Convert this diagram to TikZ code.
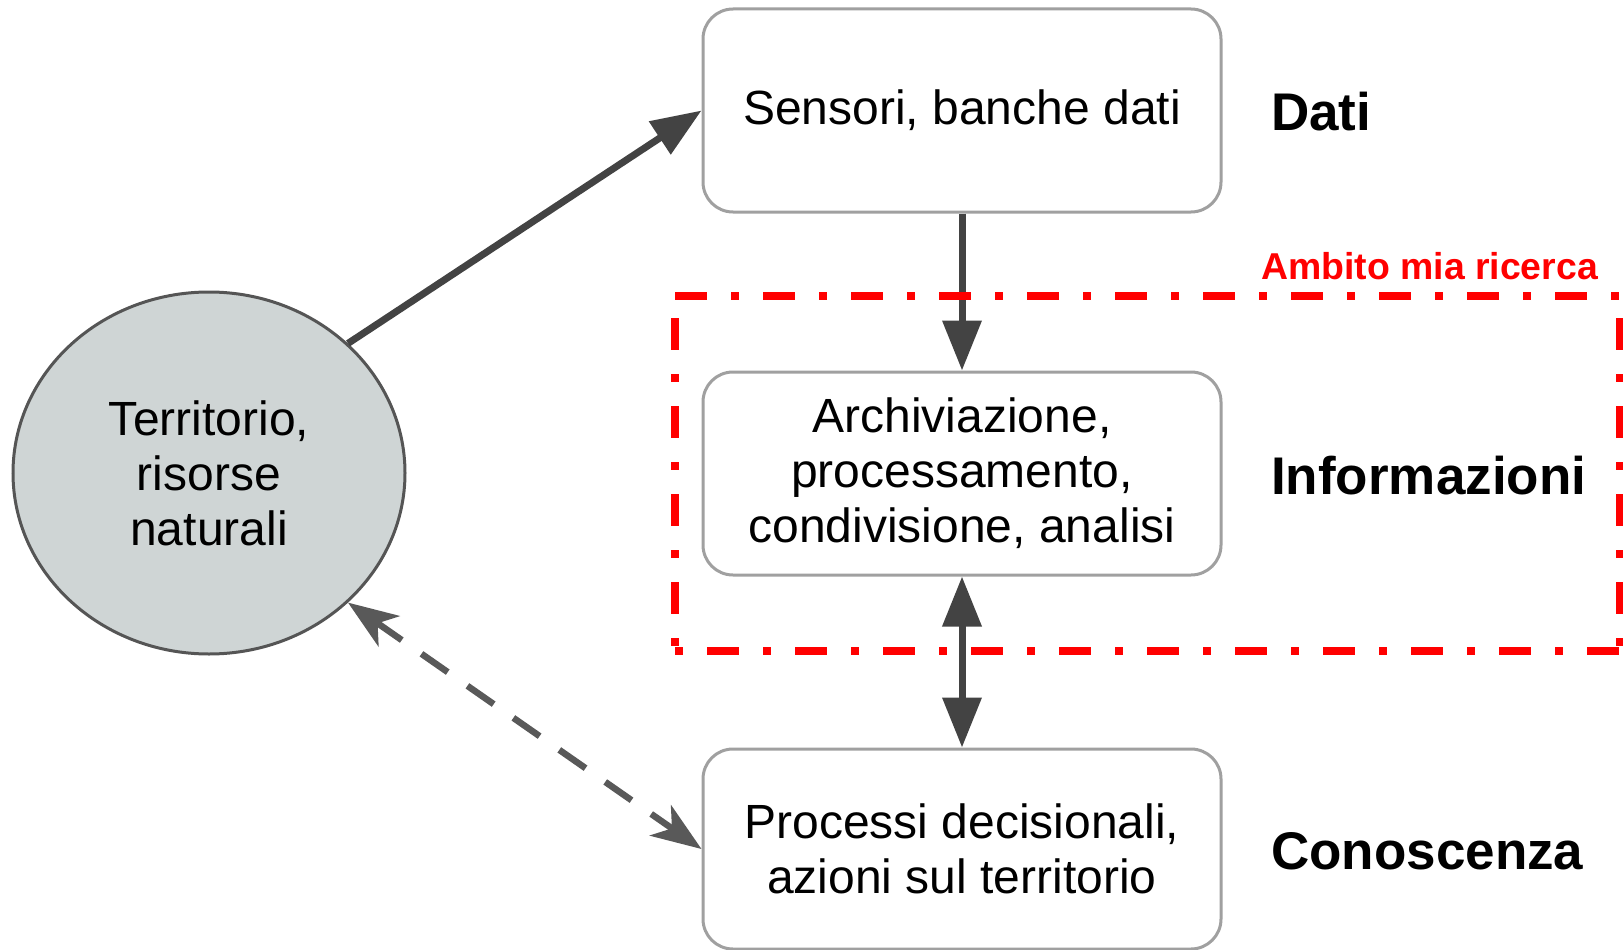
\documentclass[tikz,border=0pt]{standalone}
\usepackage{fontspec}
\setmainfont{Liberation Sans}
\usetikzlibrary{arrows.meta,shapes.geometric}
\definecolor{arrcol}{HTML}{434343}
\definecolor{dashcol}{HTML}{595959}
\definecolor{boxcol}{HTML}{A0A0A0}
\definecolor{ellfill}{HTML}{CFD5D5}
\definecolor{ellline}{HTML}{555555}
\definecolor{redcol}{HTML}{FF0000}
\begin{document}
\begin{tikzpicture}[x=1pt,y=-1pt,
  bodytext/.style={font=\fontsize{48}{55}\selectfont, align=center, text=black},
  stagebox/.style={draw=boxcol, line width=3pt, rounded corners=30pt, fill=white,
    minimum width=518pt, minimum height=203pt, inner sep=0pt, bodytext},
  ellnode/.style={ellipse, draw=ellline, line width=3pt, fill=ellfill,
    minimum width=392pt, minimum height=362pt, inner sep=0pt, bodytext},
  sidelabel/.style={anchor=base west, font=\fontsize{53}{60}\selectfont\bfseries, inner sep=0pt},
  solidarr/.style={draw=arrcol, line width=7pt, -{Triangle[length=50pt,width=38pt]}},
  dualarr/.style={draw=arrcol, line width=7pt, {Triangle[length=50pt,width=38pt]}-{Triangle[length=50pt,width=38pt]}},
  dasharr/.style={draw=dashcol, line width=6.5pt, dash pattern=on 32pt off 24pt,
    {Stealth[length=50pt,width=37pt,inset=14pt]}-{Stealth[length=50pt,width=37pt,inset=14pt]}},
  redline/.style={draw=redcol, line width=8pt, dash pattern=on 32pt off 24pt on 8pt off 24pt}
]
\useasboundingbox (0,0) rectangle (1623,950);

\node[ellnode] (terr) at (209,473) {Territorio,\\risorse\\naturali};
\node[stagebox] (dati) at (962,110.5) {Sensori, banche dati};
\node[stagebox] (info) at (962,473.5) {Archiviazione,\\processamento,\\condivisione, analisi};
\node[stagebox, minimum height=200pt] (cono) at (962,849) {Processi decisionali,\\azioni sul territorio};

\node[sidelabel] (ldati) at (1271,130) {Dati};
\node[sidelabel] (linfo) at (1271,494) {Informazioni};
\node[sidelabel] (lcono) at (1271,869) {Conoscenza};
\node[anchor=base west, inner sep=0pt, text=redcol, font=\fontsize{37.4}{44}\selectfont\bfseries] (amb) at (1261,279) {Ambito mia ricerca};

\draw[solidarr] (terr.43) -- (dati.west);
\draw[solidarr] (dati.south) -- (info.north);
\draw[dualarr] (info.south) -- (cono.north);
\draw[dasharr] (terr.-43) -- (cono.west);

\coordinate (rtl) at (675,296);
\coordinate (rtr) at (1620,296);
\coordinate (rbl) at (675,651);
\coordinate (rbr) at (1620,651);
\draw[redline] (rtl) -- (rtr);
\draw[redline, dash phase=66pt] (rtl) -- (rbl);
\draw[redline, dash phase=66pt] (rtr) -- (rbr);
\draw[redline, dash phase=56pt] (rbl) -- (rbr);
\end{tikzpicture}
\end{document}
